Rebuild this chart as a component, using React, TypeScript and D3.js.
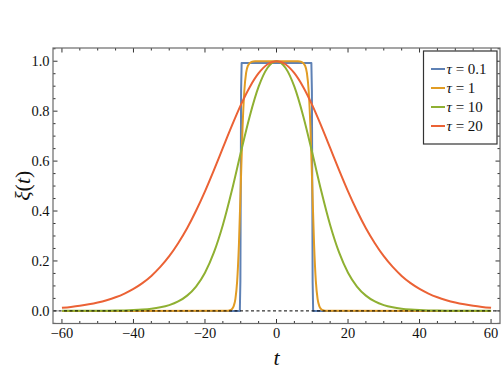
import * as d3 from 'd3'

// sample points
const tSmooth = [
  -60, -57.5, -55, -52.5, -50, -47.5, -45, -42.5, -40, -37.5, -35, -32.5, -30, -27.5, -25, -22.5,
  -20, -17.5, -15, -12.5, -10, -7.5, -5, -2.5, 0, 2.5, 5, 7.5, 10, 12.5, 15, 17.5, 20, 22.5, 25,
  27.5, 30, 32.5, 35, 37.5, 40, 42.5, 45, 47.5, 50, 52.5, 55, 57.5, 60,
]
const xiTau20 = [
  0.0125, 0.016, 0.0205, 0.0263, 0.0336, 0.0429, 0.0546, 0.0695, 0.0881, 0.111, 0.14, 0.176, 0.219,
  0.271, 0.331, 0.401, 0.479, 0.564, 0.653, 0.741, 0.824, 0.896, 0.952, 0.988, 1, 0.988, 0.952,
  0.896, 0.824, 0.741, 0.653, 0.564, 0.479, 0.401, 0.331, 0.271, 0.219, 0.176, 0.14, 0.111, 0.0881,
  0.0695, 0.0546, 0.0429, 0.0336, 0.0263, 0.0205, 0.016, 0.0125,
]
const xiTau10 = [
  0.0001, 0.0001, 0.0002, 0.0003, 0.0004, 0.0007, 0.0012, 0.0019, 0.0032, 0.0053, 0.0086, 0.0142,
  0.0232, 0.0378, 0.0611, 0.0976, 0.153, 0.234, 0.344, 0.481, 0.633, 0.779, 0.898, 0.974, 1, 0.974,
  0.898, 0.779, 0.633, 0.481, 0.344, 0.234, 0.153, 0.0976, 0.0611, 0.0378, 0.0232, 0.0142, 0.0086,
  0.0053, 0.0032, 0.0019, 0.0012, 0.0007, 0.0004, 0.0003, 0.0002, 0.0001, 0.0001,
]
const tTau1 = [
  -60, -14, -13, -12.5, -12, -11.5, -11, -10.5, -10, -9.5, -9, -8.5, -8, -7, -6, 6, 7, 8, 8.5, 9,
  9.5, 10, 10.5, 11, 11.5, 12, 12.5, 13, 14, 60,
]
const xiTau1 = [
  0, 0.0003, 0.0025, 0.0067, 0.018, 0.047, 0.119, 0.269, 0.5, 0.731, 0.881, 0.953, 0.982, 0.9975, 1,
  1, 0.9975, 0.982, 0.953, 0.881, 0.731, 0.5, 0.269, 0.119, 0.047, 0.018, 0.0067, 0.0025, 0.0003, 0,
]
const tTau01 = [-60, -10.25, -10.1, -10, -9.9, -9.75, 9.75, 9.9, 10, 10.1, 10.25, 60]
const xiTau01 = [0, 0, 0.119, 0.5, 0.881, 0.993, 0.993, 0.881, 0.5, 0.119, 0, 0]

const seriesNames = ['τ = 0.1', 'τ = 1', 'τ = 10', 'τ = 20']
const seriesColors = ['#5E81B5', '#E19C24', '#8FB032', '#EB6235']

const xMajor = [-60, -40, -20, 0, 20, 40, 60]
const xLabels = ['−60', '−40', '−20', '0', '20', '40', '60']
const yMajor = [0, 0.2, 0.4, 0.6, 0.8, 1.0]
const yLabels = ['0.0', '0.2', '0.4', '0.6', '0.8', '1.0']

const W = 502
const H = 377
const left = 53
const right = 500
const top = 48
const bottom = 323.5

export default function App() {
  const x = d3.scaleLinear().domain([-62.5, 62.5]).range([left, right])
  const y = d3.scaleLinear().domain([-0.0505, 1.053]).range([bottom, top])

  const series = [
    { t: tTau01, v: xiTau01, curve: d3.curveLinear },
    { t: tTau1, v: xiTau1, curve: d3.curveMonotoneX },
    { t: tSmooth, v: xiTau10, curve: d3.curveMonotoneX },
    { t: tSmooth, v: xiTau20, curve: d3.curveMonotoneX },
  ]

  const xMinor = d3.range(-60, 60.01, 5).filter((d) => !xMajor.includes(d))
  const yMinor = d3.range(-0.05, 1.051, 0.05).map((d) => +d.toFixed(2)).filter((d) => !yMajor.includes(d))

  const serif = '"Liberation Serif", "Times New Roman", serif'
  const tickCol = '#333'

  return (
    <svg width={W} height={H} style={{ position: 'absolute', left: 0, top: 0 }} fontFamily={serif}>
      <rect width={W} height={H} fill="white" />
      <defs>
        <clipPath id="plot">
          <rect x={left} y={top} width={right - left} height={bottom - top} />
        </clipPath>
      </defs>

      <g clipPath="url(#plot)">
        {series.map((s, i) => {
          const line = d3
            .line<number>()
            .x((d) => x(d))
            .y((_, j) => y(s.v[j]))
            .curve(s.curve)
          return (
            <path key={i} d={line(s.t) || ''} fill="none" stroke={seriesColors[i]} strokeWidth={2} strokeLinejoin="round" />
          )
        })}
        <line x1={left} x2={right} y1={y(0)} y2={y(0)} stroke="black" strokeWidth={1} strokeDasharray="3,2.5" />
      </g>

      {/* ticks, all four sides */}
      <g stroke={tickCol} strokeWidth={1}>
        {xMajor.map((d) => (
          <g key={'xM' + d}>
            <line x1={x(d)} x2={x(d)} y1={bottom} y2={bottom - 4.5} />
            <line x1={x(d)} x2={x(d)} y1={top} y2={top + 4.5} />
          </g>
        ))}
        {xMinor.map((d) => (
          <g key={'xm' + d}>
            <line x1={x(d)} x2={x(d)} y1={bottom} y2={bottom - 2.5} />
            <line x1={x(d)} x2={x(d)} y1={top} y2={top + 2.5} />
          </g>
        ))}
        {yMajor.map((d) => (
          <g key={'yM' + d}>
            <line x1={left} x2={left + 4.5} y1={y(d)} y2={y(d)} />
            <line x1={right} x2={right - 4.5} y1={y(d)} y2={y(d)} />
          </g>
        ))}
        {yMinor.map((d) => (
          <g key={'ym' + d}>
            <line x1={left} x2={left + 2.5} y1={y(d)} y2={y(d)} />
            <line x1={right} x2={right - 2.5} y1={y(d)} y2={y(d)} />
          </g>
        ))}
      </g>

      <rect x={left} y={top} width={right - left} height={bottom - top} fill="none" stroke="#6a6a6a" strokeWidth={1.2} />

      <g fontSize={14.5} fill="#111">
        {xMajor.map((d, i) => (
          <text key={'xl' + d} x={x(d)} y={338} textAnchor="middle">
            {xLabels[i]}
          </text>
        ))}
        {yMajor.map((d, i) => (
          <text key={'yl' + d} x={49.5} y={y(d) + 5} textAnchor="end">
            {yLabels[i]}
          </text>
        ))}
      </g>

      <text x={(left + right) / 2} y={365} textAnchor="middle" fontSize={22} fontStyle="italic" fill="#111">
        t
      </text>
      <text
        transform={`translate(30, ${(top + bottom) / 2}) rotate(-90)`}
        textAnchor="middle"
        fontSize={22}
        fill="#111"
      >
        <tspan fontStyle="italic">ξ</tspan>
        <tspan>(</tspan>
        <tspan fontStyle="italic">t</tspan>
        <tspan>)</tspan>
      </text>

      {/* legend */}
      <g>
        <rect x={423.5} y={51} width={73.5} height={93} fill="white" stroke="#333" strokeWidth={1.2} />
        {seriesNames.map((name, i) => {
          const yy = 69 + i * 19
          const parts = name.split(' = ')
          return (
            <g key={name}>
              <line x1={431} x2={445} y1={yy} y2={yy} stroke={seriesColors[i]} strokeWidth={2} />
              <text x={446.5} y={yy + 5} fontSize={15} fill="#111">
                <tspan fontStyle="italic">{parts[0]}</tspan>
                <tspan> = {parts[1]}</tspan>
              </text>
            </g>
          )
        })}
      </g>
    </svg>
  )
}
